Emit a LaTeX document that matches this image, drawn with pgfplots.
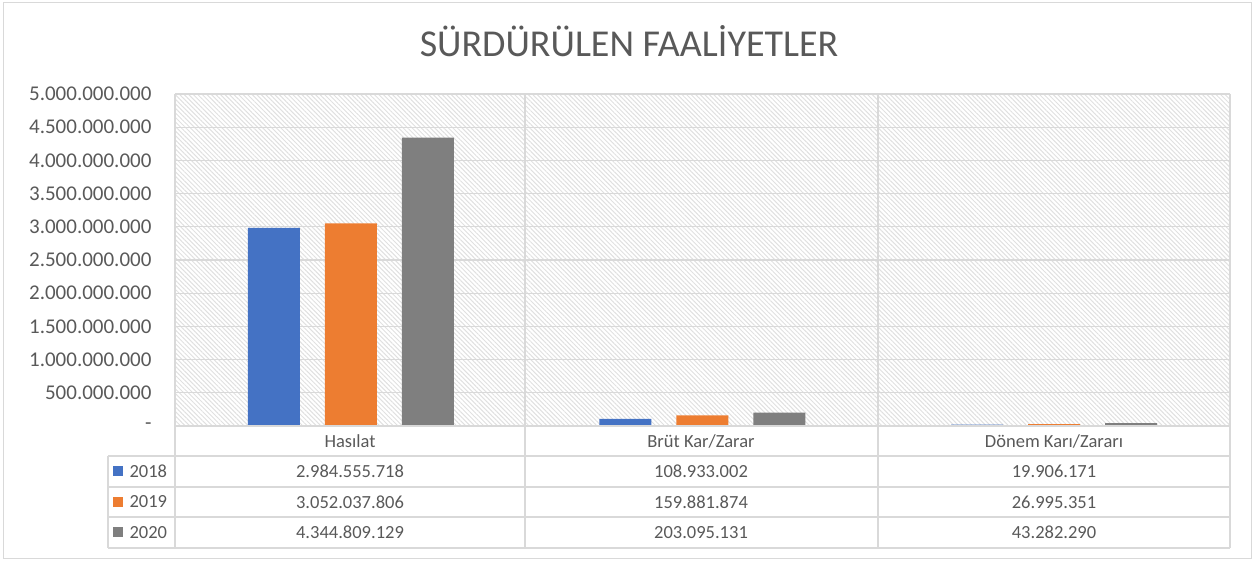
\documentclass[border=0pt]{standalone}
\usepackage{pgfplots}
\pgfplotsset{compat=1.18}
\usepackage{fontspec}
\setmainfont{Carlito}
\usetikzlibrary{patterns.meta}
\definecolor{c18}{HTML}{4472C4}
\definecolor{c19}{HTML}{ED7D31}
\definecolor{c20}{HTML}{7F7F7F}
\definecolor{gridc}{HTML}{D9D9D9}
\definecolor{txt}{HTML}{595959}
\begin{document}
\begin{tikzpicture}
% canvas
\path (0pt,0pt) rectangle (1256pt,562pt);
\draw[gridc, line width=1pt] (3pt,3pt) rectangle (1251pt,559pt);
\node[txt, font=\fontsize{38}{44}\selectfont] at (629pt,521pt) {SÜRDÜRÜLEN FAALİYETLER};
\begin{axis}[
  at={(175pt,136pt)}, anchor=south west, scale only axis,
  width=1055pt, height=332pt,
  xmin=-0.5, xmax=2.5, ymin=0, ymax=5000000000,
  scaled y ticks=false,
  axis line style={draw=none},
  major tick length=0pt,
  xtick=\empty,
  ytick={0,500000000,1000000000,1500000000,2000000000,2500000000,3000000000,3500000000,4000000000,4500000000,5000000000},
  yticklabels={-,500.000.000,1.000.000.000,1.500.000.000,2.000.000.000,2.500.000.000,3.000.000.000,3.500.000.000,4.000.000.000,4.500.000.000,5.000.000.000},
  yticklabel style={font=\fontsize{21}{24}\selectfont, text=txt, anchor=east, xshift=-20pt},
  ymajorgrids, grid style={gridc, line width=1.2pt},
  axis background/.style={pattern={Lines[angle=-45,distance=3.2pt,line width=1pt]}, pattern color=gray!24},
  ybar,
]
\addplot[fill=c18, draw=none, bar width=52pt, bar shift=-77pt] coordinates {(0,2984555718) (1,108933002) (2,19906171)};
\addplot[fill=c19, draw=none, bar width=52pt, bar shift=0pt] coordinates {(0,3052037806) (1,159881874) (2,26995351)};
\addplot[fill=c20, draw=none, bar width=52pt, bar shift=77pt] coordinates {(0,4344809129) (1,203095131) (2,43282290)};
\end{axis}
% table lines
\begin{scope}[gridc, line width=1.5pt]
\draw (175pt,136pt) -- (1230pt,136pt);
\foreach \y in {106,75,45,14} \draw (108pt,\y pt) -- (1230pt,\y pt);
\draw (108pt,106pt) -- (108pt,14pt);
\foreach \x in {175,525,878,1230} \draw (\x pt,468pt) -- (\x pt,14pt);
\end{scope}
% table text
\begin{scope}[every node/.style={text=txt, font=\fontsize{18.5}{22}\selectfont}]
\node at (350pt,121pt) {Hasılat};
\node at (701pt,121pt) {Brüt Kar/Zarar};
\node at (1054pt,121pt) {Dönem Karı/Zararı};
\node at (350pt,90.5pt) {2.984.555.718};
\node at (701pt,90.5pt) {108.933.002};
\node at (1054pt,90.5pt) {19.906.171};
\node at (350pt,60pt) {3.052.037.806};
\node at (701pt,60pt) {159.881.874};
\node at (1054pt,60pt) {26.995.351};
\node at (350pt,29.5pt) {4.344.809.129};
\node at (701pt,29.5pt) {203.095.131};
\node at (1054pt,29.5pt) {43.282.290};
\node[anchor=west] at (126pt,90.5pt) {2018};
\node[anchor=west] at (126pt,60pt) {2019};
\node[anchor=west] at (126pt,29.5pt) {2020};
\end{scope}
\fill[c18] (113pt,85.5pt) rectangle (123pt,95.5pt);
\fill[c19] (113pt,55pt) rectangle (123pt,65pt);
\fill[c20] (113pt,24.5pt) rectangle (123pt,34.5pt);
\end{tikzpicture}
\end{document}
